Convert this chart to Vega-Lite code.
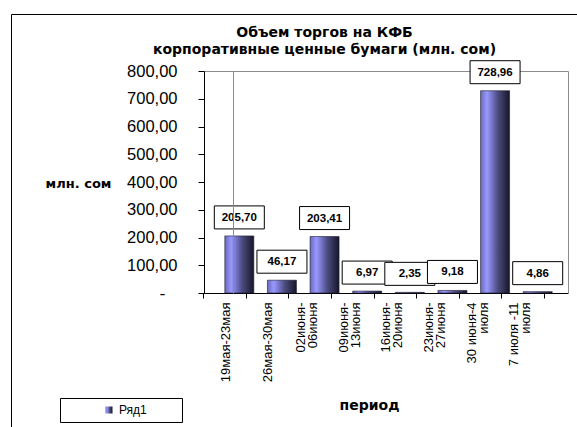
{
  "$schema": "https://vega.github.io/schema/vega-lite/v6.json",
  "width": 567,
  "height": 414,
  "autosize": {"type": "none"},
  "padding": {"left": 11, "top": 14, "right": -1, "bottom": -1},
  "background": "white",
  "config": {
    "font": "Liberation Sans",
    "locale": {"number": {"decimal": ",", "thousands": " ", "grouping": [3], "currency": ["", ""]}},
    "view": {"stroke": "#000", "strokeWidth": 1}
  },
  "title": {
    "text": ["Объем торгов на КФБ\u00a0\u00a0\u00a0\u00a0\u00a0\u00a0\u00a0\u00a0\u00a0\u00a0", "корпоративные ценные бумаги (млн. сом)"],
    "anchor": "middle",
    "frame": "group",
    "orient": "top",
    "baseline": "top",
    "offset": 0,
    "dy": 43,
    "dx": 30,
    "font": "DejaVu Sans",
    "fontSize": 14,
    "fontWeight": "bold",
    "lineHeight": 17,
    "color": "#000"
  },
  "data": {
    "values": [
      {"period": "19мая-23мая", "value": 205.70},
      {"period": "26мая-30мая", "value": 46.17},
      {"period": "02июня-\n06июня", "value": 203.41},
      {"period": "09июня-\n13июня", "value": 6.97},
      {"period": "16июня-\n20июня", "value": 2.35},
      {"period": "23июня-\n27июня", "value": 9.18},
      {"period": "30 июня-4\nиюля", "value": 728.96},
      {"period": "7 июля -11\nиюля", "value": 4.86}
    ]
  },
  "layer": [
    {
      "mark": {
        "type": "bar",
        "width": 29,
        "xOffset": 15,
        "stroke": "#1a1a2e",
        "strokeWidth": 0.6,
        "fill": {
          "gradient": "linear",
          "x1": 0, "y1": 0, "x2": 1, "y2": 0,
          "stops": [
            {"offset": 0, "color": "#6a6ab8"},
            {"offset": 0.22, "color": "#9999ff"},
            {"offset": 0.57, "color": "#50508c"},
            {"offset": 0.585, "color": "#4e4e80"},
            {"offset": 1, "color": "#15152a"}
          ]
        }
      },
      "encoding": {
        "x": {
          "field": "period",
          "type": "nominal",
          "sort": null,
          "scale": {"range": [192, 557], "paddingInner": 0, "paddingOuter": 0.2815, "align": 0},
          "axis": {
            "orient": "bottom",
            "offset": -135,
            "title": "период",
            "titleFont": "DejaVu Sans",
            "titleFontSize": 14,
            "titleFontWeight": "bold",
            "titleColor": "#000",
            "titleX": 358,
            "titleY": 112,
            "titleAlign": "center",
            "titleBaseline": "middle",
            "labelAngle": 270,
            "labelAlign": "right",
            "labelBaseline": "middle",
            "labelFontSize": 13,
            "labelColor": "#000",
            "labelPadding": 4,
            "labelLineHeight": 12,
            "labelLimit": 200,
            "labelOverlap": false,
            "labelExpr": "split(datum.label, '\\n')",
            "labelOffset": {"condition": {"test": "indexof(datum.label, '\\n') >= 0", "value": -9}, "value": 1},
            "tickBand": "extent",
            "tickSize": 5,
            "tickColor": "#000",
            "domainColor": "#000"
          }
        },
        "y": {
          "field": "value",
          "type": "quantitative",
          "scale": {"domain": [0, 800], "range": [279, 57], "nice": false},
          "axis": {
            "orient": "left",
            "offset": -193,
            "values": [0, 100, 200, 300, 400, 500, 600, 700, 800],
            "format": ".2f",
            "labelExpr": "datum.value == 0 ? '-\u2800' : datum.label",
            "labelFont": {"condition": {"test": "datum.value == 0", "value": "DejaVu Sans"}, "value": "Liberation Sans"},
            "labelFontSize": 16.5,
            "labelColor": "#000",
            "labelPadding": 21,
            "tickSize": 6,
            "tickColor": "#000",
            "domainColor": "#000",
            "grid": false,
            "title": "млн. сом",
            "titleAngle": 0,
            "titleX": -126,
            "titleY": 169,
            "titleAlign": "center",
            "titleBaseline": "middle",
            "titleFont": "DejaVu Sans",
            "titleFontSize": 13,
            "titleFontWeight": "bold",
            "titleColor": "#000"
          }
        },
        "opacity": {
          "datum": "Ряд1",
          "type": "nominal",
          "scale": {"range": [1]},
          "legend": {
            "orient": "none",
            "legendX": 49,
            "legendY": 384,
            "title": "\u2800\u2800\u2800",
            "titleOrient": "right",
            "titlePadding": 0,
            "titleFont": "DejaVu Sans",
            "titleFontSize": 12,
            "padding": 6,
            "strokeColor": "#000",
            "fillColor": "#fff",
            "symbolType": "square",
            "symbolSize": 49,
            "symbolFillColor": "#9999ff",
            "symbolStrokeColor": "#333366",
            "symbolStrokeWidth": 1,
            "symbolOffset": 37,
            "labelFontSize": 12,
            "labelColor": "#000"
          }
        }
      }
    },
    {
      "mark": {
        "type": "point",
        "filled": false,
        "shape": "M-1,-0.46H1V0.46H-1Z",
        "size": 2500,
        "fill": "#fff",
        "fillOpacity": 1,
        "stroke": "#000",
        "strokeWidth": 1,
        "opacity": 1,
        "xOffset": 15,
        "yOffset": -18.5
      },
      "encoding": {
        "x": {
          "field": "period",
          "type": "nominal",
          "sort": null,
          "axis": {"orient": "top", "offset": -57, "ticks": false, "labels": false, "title": null, "domainColor": "#8c8c8c"}
        },
        "y": {
          "field": "value",
          "type": "quantitative",
          "axis": {"orient": "right", "offset": -10, "ticks": false, "labels": false, "title": null, "grid": false, "domainColor": "#8c8c8c"}
        }
      }
    },
    {
      "mark": {
        "type": "text",
        "fontSize": 11.5,
        "fontWeight": "bold",
        "color": "#000",
        "align": "center",
        "baseline": "middle",
        "xOffset": 15,
        "yOffset": -18
      },
      "encoding": {
        "x": {"field": "period", "type": "nominal", "sort": null, "axis": null},
        "y": {
          "field": "value",
          "type": "quantitative",
          "axis": {"orient": "right", "offset": -345, "ticks": false, "labels": false, "title": null, "grid": false, "domainColor": "#8c8c8c", "zindex": 1}
        },
        "text": {"field": "value", "type": "quantitative", "format": ".2f"}
      }
    }
  ],
  "resolve": {"axis": {"x": "independent", "y": "independent"}}
}
